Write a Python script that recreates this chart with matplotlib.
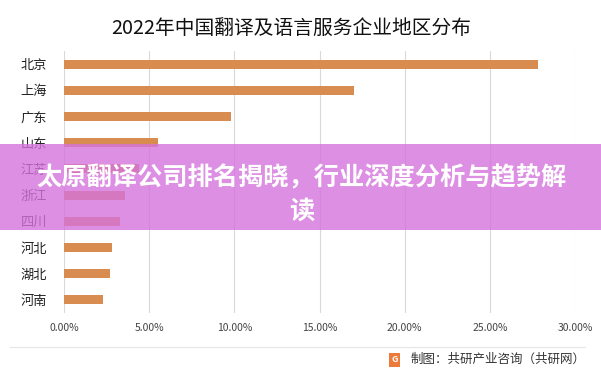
import matplotlib
matplotlib.use("Agg")
import matplotlib.pyplot as plt
from matplotlib.ticker import FuncFormatter, MultipleLocator

plt.rcParams['font.family'] = ['Noto Sans CJK SC', 'DejaVu Sans']

# data (share of enterprises, %)
regions = ["北京", "上海", "广东", "山东", "江苏", "浙江", "四川", "河北", "湖北", "河南"]
shares = [27.8, 17.0, 9.8, 5.5, 4.4, 3.6, 3.3, 2.8, 2.7, 2.3]
title = "2022年中国翻译及语言服务企业地区分布"
banner = "太原翻译公司排名揭晓，行业深度分析与趋势解读"
source = "制图：共研产业咨询（共研网）"

fig = plt.figure(figsize=(6.01, 3.72), dpi=100)
ax = fig.add_axes([64 / 601, 1 - 313 / 372, (575 - 64) / 601, 262 / 372])

ax.barh(regions, shares, height=0.35, color="#d98c4f", zorder=3)
ax.set_xlim(0, 30)
ax.set_ylim(9.5, -0.5)
ax.xaxis.set_major_locator(MultipleLocator(5))
ax.xaxis.set_major_formatter(FuncFormatter(lambda v, p: f"{v:.2f}%"))
ax.grid(axis="x", color="#d9d9d9", linewidth=0.8, zorder=0)
for s in ax.spines.values():
    s.set_visible(False)
ax.tick_params(axis="both", length=0)
ax.tick_params(axis="y", labelsize=9.5, pad=12, labelcolor="#222222")
ax.tick_params(axis="x", labelsize=7.5, pad=7, labelcolor="#444444")

fig.text(0.485, 1 - 28 / 372, title, ha="center", va="center", fontsize=14.2, color="#111111")

# separator line and source
fig.add_artist(plt.Line2D([10 / 601, 585 / 601], [1 - 347 / 372] * 2, color="#e6e6e6", linewidth=0.8))
fig.text(0.975, 1 - 359 / 372, source, ha="right", va="center", fontsize=9, color="#333333")
fig.text(0.657, 1 - 360 / 372, "G", ha="center", va="center", fontsize=6.5, color="white",
         fontweight="bold", bbox=dict(boxstyle="square,pad=0.25", facecolor="#ee7a3a", edgecolor="none"))

# overlay banner
fig.add_artist(plt.Rectangle((0, 1 - 230 / 372), 1, 86 / 372, transform=fig.transFigure,
                             facecolor="#d473dc", alpha=0.8, edgecolor="none", zorder=10))
fig.text(0.502, 1 - 178 / 372, banner[:21], ha="center", va="center", fontsize=18.2,
         fontweight="bold", color="white", zorder=11)
fig.text(0.502, 1 - 211 / 372, banner[21:], ha="center", va="center", fontsize=18.2,
         fontweight="bold", color="white", zorder=11)

fig.savefig("out.png", dpi=100)
